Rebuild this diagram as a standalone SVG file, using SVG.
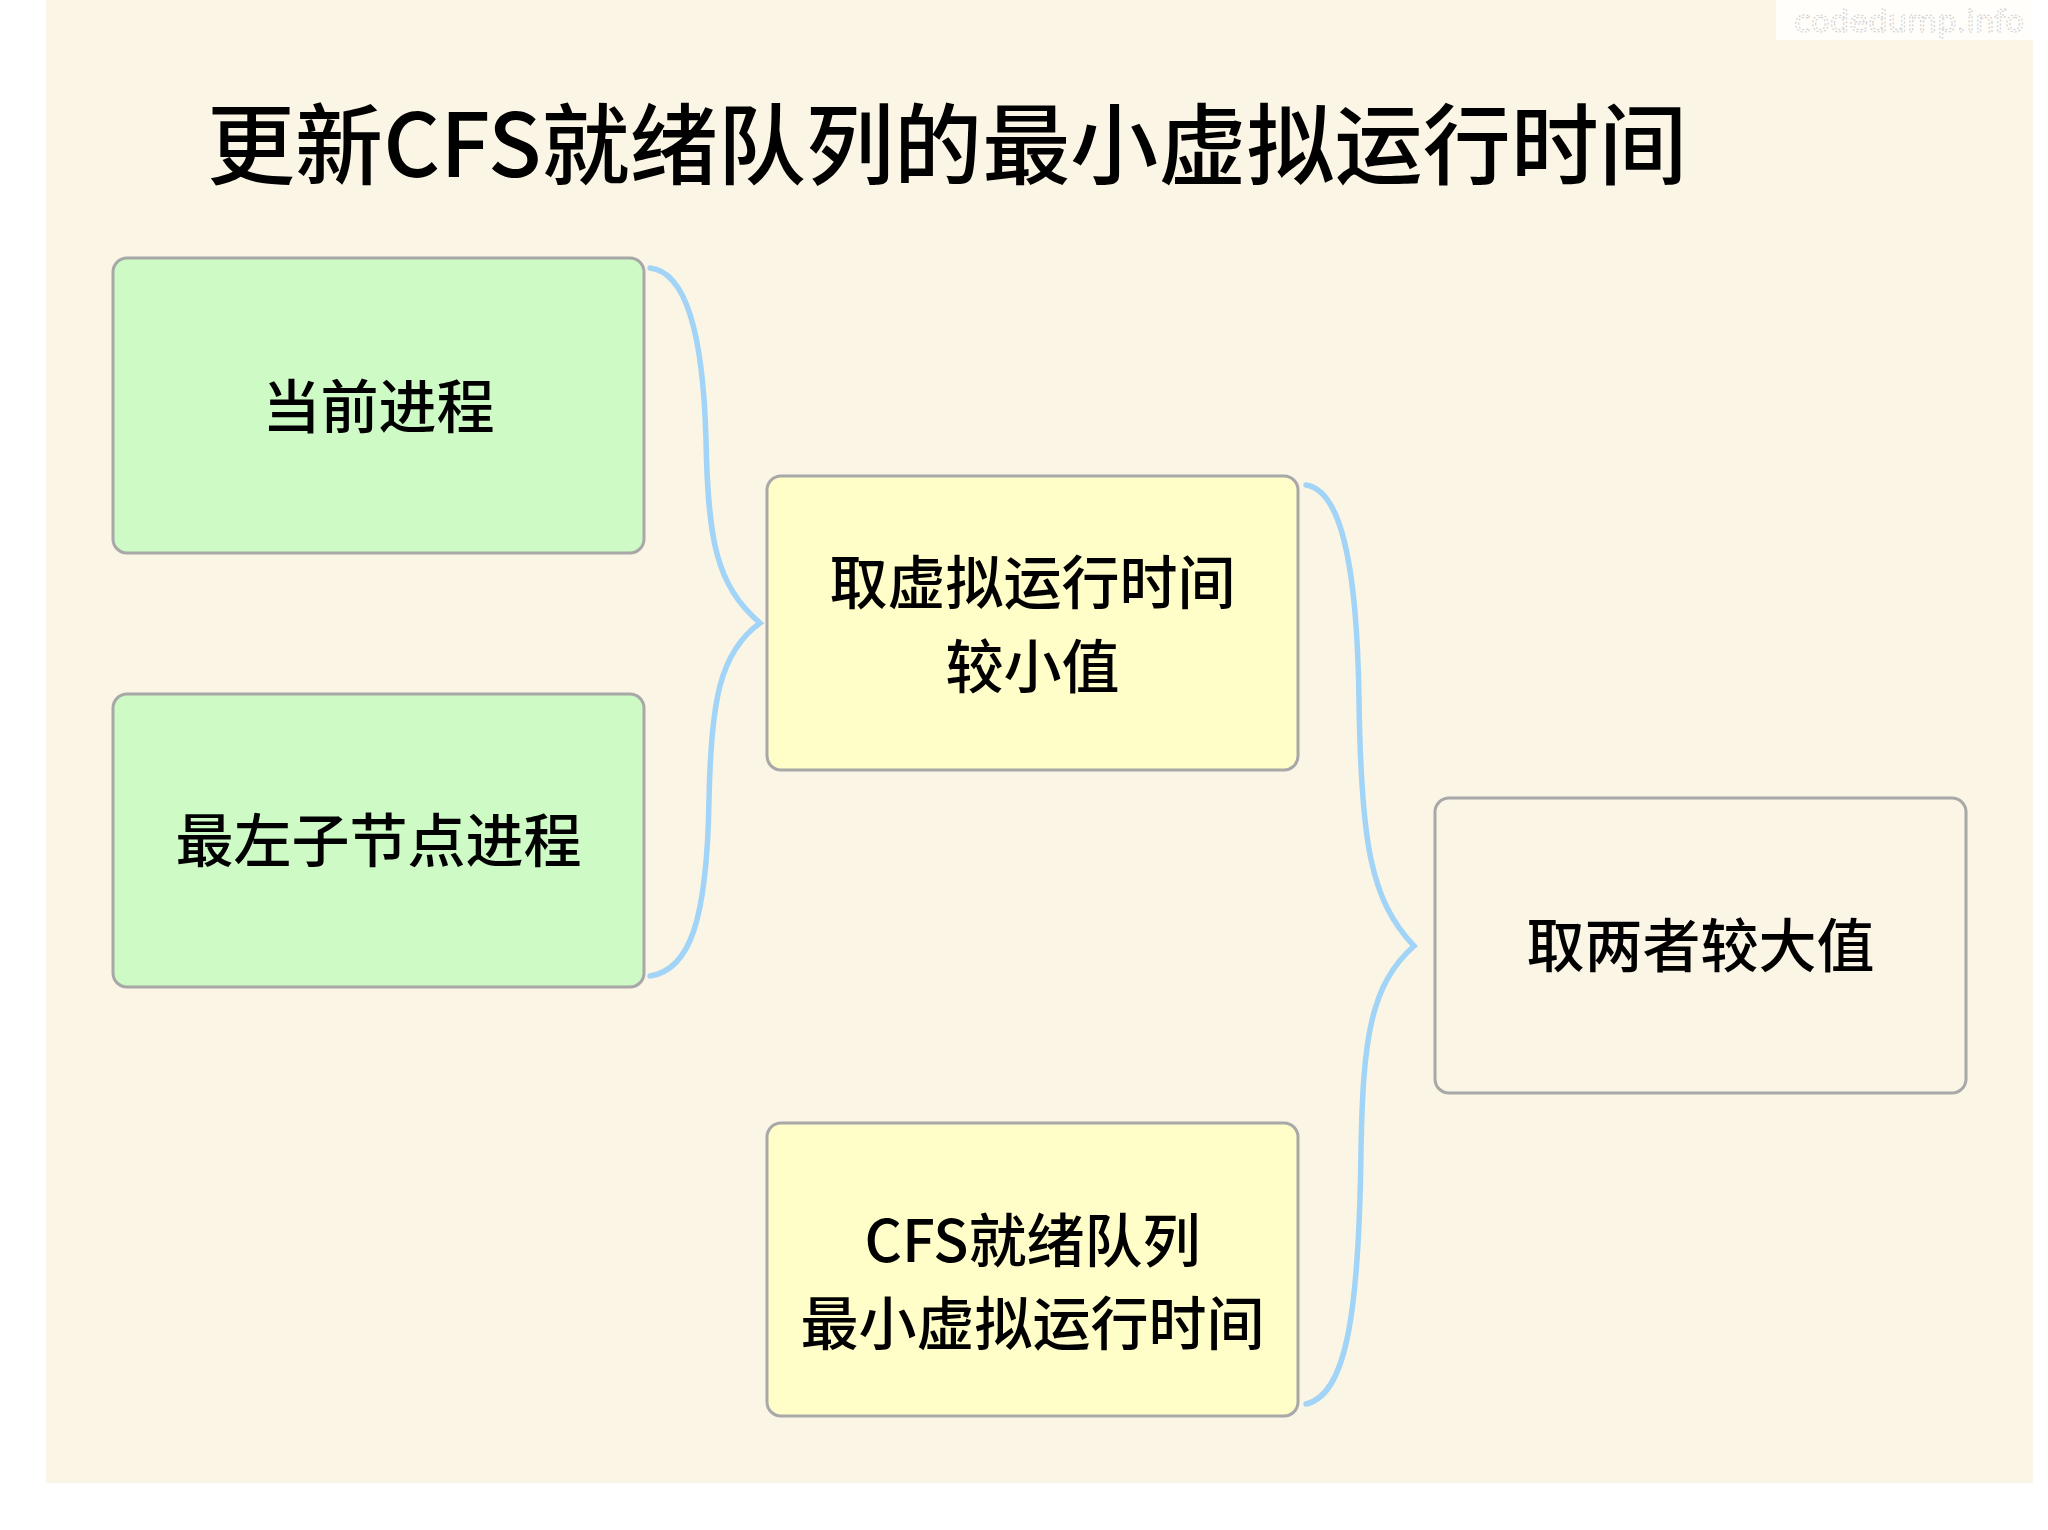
<svg xmlns="http://www.w3.org/2000/svg" width="2048" height="1530" viewBox="0 0 2048 1530">
  <style>
    .box { stroke: #A8A8A8; stroke-width: 3; }
    .green { fill: #CDFAC5; }
    .yellow { fill: #FFFEC8; }
    .plain { fill: #FBF5E5; }
    .label { font-family: "Noto Sans CJK SC", "Noto Sans", sans-serif; font-size: 58px; font-weight: 500; fill: #000; text-anchor: middle; }
    .brace { fill: none; stroke: #A2D4F7; stroke-width: 5.5; stroke-linecap: round; stroke-linejoin: miter; }
  </style>

  <!-- page -->
  <rect x="0" y="0" width="2048" height="1530" fill="#FFFFFF"/>
  <rect x="46" y="0" width="1987" height="1483" fill="#FBF5E5"/>

  <!-- site mark -->
  <rect x="1776" y="0" width="257" height="40" fill="#FFFFFF" fill-opacity="0.85"/>
  <text x="1794" y="32" font-family="DejaVu Sans, sans-serif" font-size="31" fill="none" stroke="#CFCFCF" stroke-width="1.1" stroke-dasharray="2 2" textLength="230" lengthAdjust="spacingAndGlyphs">codedump.info</text>

  <!-- title -->
  <text x="207" y="177" font-family="Noto Sans CJK SC, Noto Sans, sans-serif" font-size="88" font-weight="500" fill="#000" textLength="1480" lengthAdjust="spacing">更新CFS就绪队列的最小虚拟运行时间</text>

  <!-- connectors -->
  <g id="connectors">
    <path class="brace" d="M650,268 C685,272 703,330 706,440 C708,540 716,585 760,623 C720,652 711,700 709,800 C707,920 690,970 650,976"/>
    <path class="brace" d="M1306,485 C1340,490 1357,560 1359,700 C1361,840 1370,900 1414,946 C1370,985 1363,1040 1361,1150 C1359,1320 1345,1395 1306,1404"/>
  </g>

  <g id="node-current">
    <rect class="box green" x="113" y="258" width="531" height="295" rx="14"/>
    <text class="label" x="378.5" y="428">当前进程</text>
  </g>

  <g id="node-leftmost">
    <rect class="box green" x="113" y="694" width="531" height="293" rx="14"/>
    <text class="label" x="378.5" y="862">最左子节点进程</text>
  </g>

  <g id="node-min-vruntime">
    <rect class="box yellow" x="767" y="476" width="531" height="294" rx="14"/>
    <text class="label" x="1032.5" y="604">取虚拟运行时间</text>
    <text class="label" x="1032.5" y="688">较小值</text>
  </g>

  <g id="node-cfs-min">
    <rect class="box yellow" x="767" y="1123" width="531" height="293" rx="14"/>
    <text class="label" x="1032.5" y="1262">CFS就绪队列</text>
    <text class="label" x="1032.5" y="1345">最小虚拟运行时间</text>
  </g>

  <g id="node-max">
    <rect class="box plain" x="1435" y="798" width="531" height="295" rx="14"/>
    <text class="label" x="1700.5" y="967">取两者较大值</text>
  </g>
</svg>
